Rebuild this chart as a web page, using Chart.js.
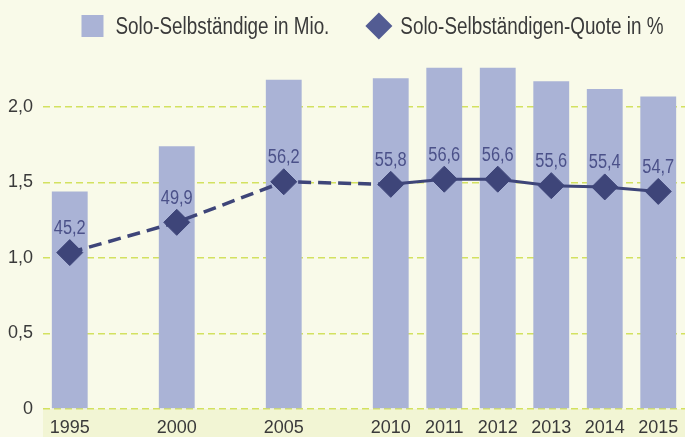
<!DOCTYPE html>
<html lang="de">
<head>
<meta charset="utf-8">
<script src="https://cdn.jsdelivr.net/npm/chart.js@4/dist/chart.umd.min.js"></script>
<style>
  html, body { margin: 0; padding: 0; background: #f9fae9; }
  #wrap { width: 685px; height: 437px; overflow: hidden; }
</style>
</head>
<body>
<div id="wrap"><canvas id="chart" width="685" height="437"></canvas></div>
<script>
// Jahre (leere Kategorien = Lücken auf der Achse)
const years = ['1995', '', '2000', '', '2005', '', '2010', '2011', '2012', '2013', '2014', '2015'];
// Solo-Selbständige in Mio.
const soloMio = [1.44, null, 1.74, null, 2.18, null, 2.19, 2.26, 2.26, 2.17, 2.12, 2.07];
// Solo-Selbständigen-Quote in %
const soloQuote = [45.2, null, 49.9, null, 56.2, null, 55.8, 56.6, 56.6, 55.6, 55.4, 54.7];
const legendLabels = ['Solo-Selbständige in Mio.', 'Solo-Selbständigen-Quote in %'];

const FONT = "'Liberation Sans', Arial, sans-serif";
const NARROW = 0.82; // schmale Schrift nachbilden
const fmt = v => v === 0 ? '0' : v.toFixed(1).replace('.', ',');

function narrowText(ctx, text, x, y, align) {
    ctx.save();
    ctx.translate(x, y);
    ctx.scale(NARROW, 1);
    ctx.textAlign = align;
    ctx.fillText(text, 0, 0);
    ctx.restore();
}

// Hintergrund unter der x-Achse
const axisBand = {
    id: 'axisBand',
    beforeDraw(chart) {
        const {ctx, chartArea} = chart;
        ctx.save();
        ctx.fillStyle = '#f2f5d4';
        ctx.fillRect(chartArea.left, chartArea.bottom, chart.width - chartArea.left, chart.height - chartArea.bottom);
        ctx.restore();
    }
};

// Werte über den Rauten
const quoteLabels = {
    id: 'quoteLabels',
    afterDatasetsDraw(chart) {
        const ctx = chart.ctx;
        const meta = chart.getDatasetMeta(1);
        ctx.save();
        ctx.font = '20px ' + FONT;
        ctx.fillStyle = '#4b5189';
        ctx.textBaseline = 'middle';
        meta.data.forEach((pt, i) => {
            if (soloQuote[i] == null) return;
            narrowText(ctx, fmt(soloQuote[i]), pt.x, pt.y - 24, 'center');
        });
        ctx.restore();
    }
};

// Legende oben
const topLegend = {
    id: 'topLegend',
    afterDraw(chart) {
        const ctx = chart.ctx;
        ctx.save();
        ctx.font = '23px ' + FONT;
        ctx.textBaseline = 'middle';
        const w1 = ctx.measureText(legendLabels[0]).width * NARROW;
        const w2 = ctx.measureText(legendLabels[1]).width * NARROW;
        const total = 22 + 12 + w1 + 36 + 27 + 8 + w2;
        let x = 372.5 - total / 2;
        const cy = 26;
        ctx.fillStyle = '#aab3d6';
        ctx.fillRect(x, cy - 11, 22, 22);
        x += 34;
        ctx.fillStyle = '#3a3a3a';
        narrowText(ctx, legendLabels[0], x, cy + 2, 'left');
        x += w1 + 36;
        ctx.fillStyle = '#535c93';
        ctx.beginPath();
        ctx.moveTo(x, cy);
        ctx.lineTo(x + 13.5, cy - 13.5);
        ctx.lineTo(x + 27, cy);
        ctx.lineTo(x + 13.5, cy + 13.5);
        ctx.closePath();
        ctx.fill();
        x += 35;
        ctx.fillStyle = '#3a3a3a';
        narrowText(ctx, legendLabels[1], x, cy + 2, 'left');
        ctx.restore();
    }
};

const dashed = c => c.p1DataIndex <= 6;

const chart = new Chart(document.getElementById('chart'), {
    data: {
        labels: years,
        datasets: [{
            type: 'bar',
            label: legendLabels[0],
            data: soloMio,
            backgroundColor: '#aab3d6',
            barPercentage: 0.67,
            categoryPercentage: 1,
            yAxisID: 'y',
            order: 2
        }, {
            type: 'line',
            label: legendLabels[1],
            data: soloQuote,
            borderColor: '#3e4579',
            backgroundColor: '#3e4579',
            borderWidth: 3,
            pointStyle: 'rectRot',
            pointRadius: 13,
            pointBorderWidth: 1,
            spanGaps: true,
            tension: 0,
            clip: false,
            segment: {
                borderDash: c => dashed(c) ? [13, 7] : [],
                borderWidth: c => dashed(c) ? 3.5 : 3
            },
            yAxisID: 'y2',
            order: 1
        }]
    },
    options: {
        responsive: false,
        animation: false,
        devicePixelRatio: 1,
        layout: {padding: {top: 46.6, right: -3, left: 0, bottom: 0}},
        plugins: {
            legend: {display: false},
            tooltip: {enabled: false}
        },
        scales: {
            x: {
                grid: {display: false, drawTicks: false},
                border: {display: false},
                ticks: {
                    autoSkip: false,
                    maxRotation: 0,
                    padding: 8,
                    color: '#3a3a3a',
                    font: {family: FONT, size: 18}
                },
                afterFit: s => { s.height = 28; s.paddingLeft = 0; s.paddingRight = 0; }
            },
            y: {
                min: 0,
                max: 2.4,
                grid: {color: '#d3e160', lineWidth: 1.5, drawTicks: false, borderDash: [7, 4]},
                border: {display: false, dash: [7, 4]},
                ticks: {
                    stepSize: 0.5,
                    includeBounds: false,
                    padding: 10,
                    color: '#3a3a3a',
                    font: {family: FONT, size: 18},
                    callback: v => fmt(v)
                },
                afterFit: s => { s.width = 43; s.paddingTop = 0; s.paddingBottom = 0; }
            },
            y2: {
                display: false,
                min: 20.9,
                max: 77.2
            }
        }
    },
    plugins: [axisBand, quoteLabels, topLegend]
});

// große Rauten sollen den Diagrammbereich nicht einrücken
chart.getDatasetMeta(1).controller.getMaxOverflow = () => 0;
chart.update();
</script>
</body>
</html>
